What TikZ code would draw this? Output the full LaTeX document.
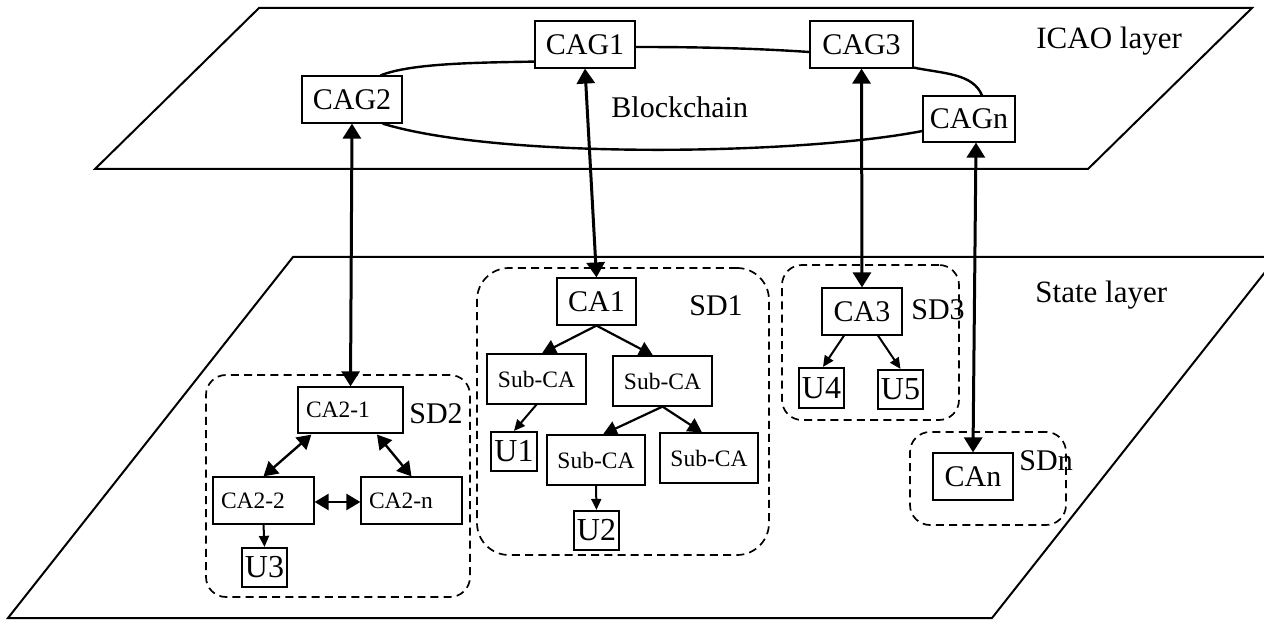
\documentclass[tikz,border=0pt]{standalone}
\usepackage{fontspec}
\setmainfont{Liberation Serif}
\usetikzlibrary{arrows.meta}
\begin{document}
\begin{tikzpicture}[x=0.5pt,y=-0.5pt,
  big/.style={font=\fontsize{15}{18}\selectfont},
  layerlbl/.style={font=\fontsize{15.5}{18}\selectfont, inner sep=0pt, anchor=base west},
  sdlbl/.style={font=\fontsize{15}{18}\selectfont, inner sep=0pt, anchor=base west},
  box/.style={draw, line width=0.6pt, inner sep=0pt, big},
  sbox/.style={draw, line width=0.6pt, inner sep=0pt, font=\fontsize{11.75}{14}\selectfont},
  lbox/.style={draw, line width=0.6pt, inner ysep=0pt, inner xsep=4pt, align=left, font=\fontsize{11.75}{14}\selectfont},
  ubox/.style={draw, line width=1.1pt, inner sep=0pt, font=\fontsize{16}{18}\selectfont},
  sdbox/.style={draw, line width=0.85pt, dash pattern=on 4pt off 2.6pt, inner sep=0pt},
  plane/.style={draw, line width=1pt, line join=miter},
  ring/.style={line width=1.2pt},
  bigarr/.style={line width=1.5pt, {Triangle[length=7.5pt,width=9pt]}-{Triangle[length=7.5pt,width=9pt]}},
  dblarr/.style={line width=1.2pt, {Triangle[length=7pt,width=8pt]}-{Triangle[length=7pt,width=8pt]}},
  midarr/.style={line width=1.1pt, -{Triangle[length=7pt,width=7.5pt]}},
  smallarr/.style={line width=1pt, -{Triangle[length=5.5pt,width=5pt]}}
]
\useasboundingbox (0,0) rectangle (1264,620);
% planes
\begin{scope}
  \clip (0,0) rectangle (1264,620);
  \draw[plane] (259,8) -- (1252,8) -- (1088,169) -- (95,169) -- cycle;
  \draw[plane] (293,257) -- (1277,257) -- (992,618) -- (8,618) -- cycle;
\end{scope}
\node[layerlbl] (icao) at (1036,49) {ICAO layer};
\node[layerlbl] (state) at (1035,303) {State layer};
% ICAO nodes
\node[box, minimum width=50pt, minimum height=23.5pt] (cag1) at (585,44.5) {CAG1};
\node[box, minimum width=51.5pt, minimum height=23.5pt] (cag3) at (861.5,44.5) {CAG3};
\node[box, minimum width=50pt, minimum height=23.5pt] (cag2) at (352,99.5) {CAG2};
\node[box, minimum width=46pt, minimum height=23pt] (cagn) at (969,119) {CAGn};
\node[sdlbl] (bc) at (611,118) {Blockchain};
% blockchain ring
\draw[ring] ([xshift=-11pt]cag2.north east) .. controls +(30,-12) and +(-60,1) .. ([yshift=3.5pt]cag1.south west);
\draw[ring] ([yshift=-1.25pt]cag1.east) .. controls +(60,0) and +(-60,-4) .. ([yshift=-3.75pt]cag3.west);
\draw[ring] ([yshift=0.5pt]cag3.south east) .. controls +(30,6) and +(-9,-22) .. ([xshift=6.5pt]cagn.north);
\draw[ring] ([yshift=-6pt]cagn.west) .. controls +(-123,24) and +(118,36) .. ([xshift=-10pt]cag2.south east);
% SD2
\node[sdbox, minimum width=132pt, minimum height=111pt, rounded corners=10pt] (sd2) at (338,486) {};
\node[sdlbl] (sd2l) at (409,423) {SD2};
\node[lbox, text width=44.5pt, minimum height=23pt] (ca21) at (350.5,410) {CA2-1};
\node[lbox, text width=42.5pt, minimum height=23.5pt] (ca22) at (263.5,500.5) {CA2-2};
\node[lbox, text width=42.5pt, minimum height=23.5pt] (ca2n) at (411.5,500.5) {CA2-n};
\node[ubox, minimum width=22.5pt, minimum height=19.5pt] (u3) at (264.5,567.5) {U3};
\draw[dblarr] ([xshift=7pt,yshift=-0.5pt]ca21.south west) -- (ca22.north);
\draw[dblarr] ([xshift=13.25pt,yshift=-0.5pt]ca21.south) -- (ca2n.north);
\draw[dblarr] ([yshift=-0.75pt]ca22.east) -- ([yshift=-0.75pt]ca2n.west);
\draw[smallarr] (ca22.south) -- (u3.north);
% SD1
\node[sdbox, minimum width=146pt, minimum height=143.5pt, rounded corners=16pt] (sd1) at (623,411.5) {};
\node[sdlbl] (sd1l) at (689,315) {SD1};
\node[box, minimum width=39.5pt, minimum height=23.5pt] (ca1) at (596.5,301.5) {CA1};
\node[sbox, minimum width=49.5pt, minimum height=25pt] (s1) at (536.5,379) {Sub-CA};
\node[sbox, minimum width=49.5pt, minimum height=25pt] (s2) at (662.5,381) {Sub-CA};
\node[sbox, minimum width=49pt, minimum height=25pt] (s3) at (596,460) {Sub-CA};
\node[sbox, minimum width=49pt, minimum height=25pt] (s4) at (709,458) {Sub-CA};
\node[ubox, minimum width=23pt, minimum height=19.5pt] (u1) at (514,451.5) {U1};
\node[ubox, minimum width=22.5pt, minimum height=19.5pt] (u2) at (596.5,530.5) {U2};
\draw[midarr] (ca1.south) -- ([xshift=2.75pt]s1.north);
\draw[midarr] (ca1.south) -- ([xshift=-4.75pt]s2.north);
\draw[smallarr] (s1.south) -- (u1.north);
\draw[midarr] (s2.south) -- ([xshift=3.5pt]s3.north);
\draw[midarr] (s2.south) -- ([xshift=-3.5pt]s4.north);
\draw[smallarr] (s3.south) -- (u2.north);
% SD3
\node[sdbox, minimum width=88.5pt, minimum height=77.5pt, rounded corners=10pt] (sd3) at (870.5,342.5) {};
\node[sdlbl] (sd3l) at (911,320) {SD3};
\node[box, minimum width=40pt, minimum height=23.5pt] (ca3) at (862,311.5) {CA3};
\node[ubox, minimum width=22.5pt, minimum height=20pt] (u4) at (821.5,388) {U4};
\node[ubox, minimum width=22.5pt, minimum height=19.5pt] (u5) at (900.5,389.5) {U5};
\draw[smallarr] ([xshift=-9pt]ca3.south) -- ([xshift=0.75pt]u4.north);
\draw[smallarr] ([xshift=8pt]ca3.south) -- (u5.north);
% SDn
\node[sdbox, minimum width=78pt, minimum height=46.5pt, rounded corners=10pt] (sdn) at (988,478.5) {};
\node[sdlbl] (sdnl) at (1019,470) {SDn};
\node[box, minimum width=40pt, minimum height=23.5pt] (can) at (973,476.5) {CAn};
% inter-layer arrows
\draw[bigarr] (cag2.south) -- (ca21.north);
\draw[bigarr] (cag1.south) -- (ca1.north);
\draw[bigarr] (cag3.south) -- (ca3.north);
\draw[bigarr] ([xshift=3.5pt]cagn.south) -- (can.north);
\end{tikzpicture}
\end{document}
